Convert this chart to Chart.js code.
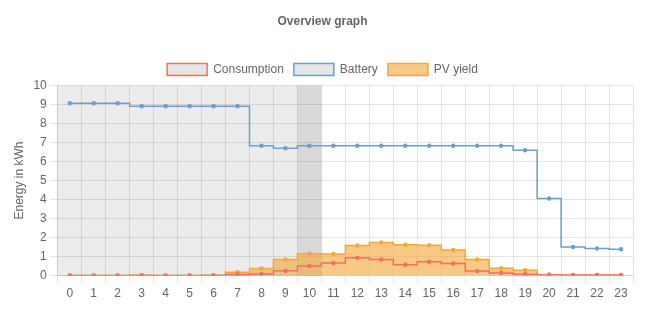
<!DOCTYPE html>
<html>
<head>
<meta charset="utf-8">
<script src="https://cdn.jsdelivr.net/npm/chart.js@4/dist/chart.umd.min.js"></script>
<style>
    html, body { margin: 0; padding: 0; background: #fff; }
    #wrap { width: 656px; height: 324px; }
</style>
</head>
<body>
<div id="wrap"><canvas id="overview"></canvas></div>
<script>
const hours = ['0', '1', '2', '3', '4', '5', '6', '7', '8', '9', '10', '11', '12', '13', '14', '15', '16', '17', '18', '19', '20', '21', '22', '23']

const consumption = [0.01, 0.01, 0.01, 0.02, 0.01, 0.01, 0.02, 0.06, 0.09, 0.26, 0.5, 0.66, 0.94, 0.85, 0.57, 0.73, 0.64, 0.24, 0.14, 0.07, 0.04, 0.03, 0.03, 0.03]
const battery = [9.06, 9.06, 9.06, 8.9, 8.9, 8.9, 8.9, 8.9, 6.83, 6.69, 6.83, 6.83, 6.83, 6.83, 6.83, 6.83, 6.83, 6.83, 6.83, 6.59, 4.06, 1.5, 1.43, 1.38]
const pvYield = [0, 0, 0, 0, 0, 0, 0.01, 0.17, 0.37, 0.84, 1.15, 1.13, 1.58, 1.74, 1.62, 1.6, 1.34, 0.84, 0.38, 0.28, 0.04, 0.02, 0.02, 0.02]

// hours before this one are already gone, this one is running
const currentHour = 10

// shades the elapsed hours and the running hour behind the grid
const hourShading = {
    id: 'hourShading',
    beforeDraw(chart) {
        const ctx = chart.ctx
        const area = chart.chartArea
        const x = chart.scales.x
        const step = x.getPixelForValue(1) - x.getPixelForValue(0)
        const start = x.getPixelForValue(0) - step / 2
        const now = start + step * currentHour

        ctx.save()
        ctx.fillStyle = '#ececec'
        ctx.fillRect(start, area.top, now - start, area.bottom - area.top)
        ctx.fillStyle = '#d9d9d9'
        ctx.fillRect(now, area.top, step, area.bottom - area.top)
        ctx.restore()
    }
}

Chart.defaults.font.family = '"Liberation Sans", Arial, sans-serif'
Chart.defaults.color = '#666'

new Chart(document.getElementById('overview'), {
    type: 'line',
    data: {
        labels: hours,
        datasets: [{
            label: 'Consumption',
            data: consumption,
            borderColor: '#f3705f',
            pointBackgroundColor: '#f3705f',
            borderWidth: 1.5,
            fill: false,
        }, {
            label: 'Battery',
            data: battery,
            borderColor: '#6a9fd3',
            pointBackgroundColor: '#6a9fd3',
            borderWidth: 1.5,
            fill: false,
        }, {
            label: 'PV yield',
            data: pvYield,
            borderColor: '#f5a73a',
            backgroundColor: 'rgba(244, 164, 52, 0.6)',
            pointBackgroundColor: '#f5a73a',
            borderWidth: 1.5,
            fill: 'origin',
        }],
    },
    options: {
        responsive: true,
        maintainAspectRatio: false,
        animation: false,
        layout: {
            padding: { left: 12, right: 23, bottom: 20 }
        },
        elements: {
            line: { stepped: 'middle' },
            point: { radius: 1.5, borderWidth: 0, hoverRadius: 3 },
        },
        plugins: {
            title: {
                display: true,
                text: 'Overview graph',
                font: { size: 12, weight: 'bold' },
                padding: { top: 14, bottom: 25 },
            },
            legend: {
                labels: { boxWidth: 40, boxHeight: 12, font: { size: 12 } }
            },
        },
        scales: {
            x: {
                offset: true,
                grid: { offset: true },
                ticks: { font: { size: 12 } },
            },
            y: {
                min: 0,
                max: 10,
                ticks: { stepSize: 1, font: { size: 12 } },
                title: {
                    display: true,
                    text: 'Energy in kWh',
                    font: { size: 12 },
                    padding: { top: 0, bottom: 4 },
                },
            },
        },
    },
    plugins: [hourShading],
})
</script>
</body>
</html>
